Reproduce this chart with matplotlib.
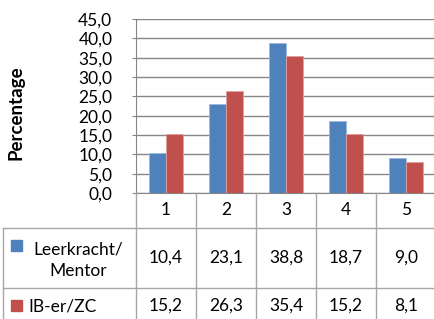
import matplotlib.pyplot as plt
import numpy as np
from matplotlib.patches import Rectangle
from matplotlib.lines import Line2D

# Data
categories = ['1', '2', '3', '4', '5']
series_names = ['Leerkracht/\nMentor', 'IB-er/ZC']
leerkracht = [10.4, 23.1, 38.8, 18.7, 9.0]
ib_er = [15.2, 26.3, 35.4, 15.2, 8.1]
colors = ['#4F81BD', '#C0504D']

plt.rcParams['font.family'] = ['Lato', 'DejaVu Sans']
FS = 12.5

W, H = 434, 319
fig = plt.figure(figsize=(W / 100, H / 100), dpi=100)


def fx(px):
    return px / W


def fy(py):
    return 1 - py / H


# Plot area (pixel layout of the reference)
left, top, bottom = 136, 19, 193
col_w = 60
ax_w = col_w * len(categories)
ax = fig.add_axes([fx(left), fy(bottom), fx(ax_w), (bottom - top) / H])

x = np.arange(len(categories))
bw = 0.29
ax.bar(x - bw / 2, leerkracht, width=bw, color=colors[0], edgecolor='#9DB9DD', linewidth=0.6, zorder=3)
ax.bar(x + bw / 2, ib_er, width=bw, color=colors[1], edgecolor='#E0A09E', linewidth=0.6, zorder=3)

ax.set_xlim(-0.5, len(categories) - 0.5)
ax.set_ylim(0, 45)
ax.set_yticks(np.arange(0, 46, 5))
ax.set_yticklabels([f'{v:.1f}'.replace('.', ',') for v in np.arange(0, 46, 5)], fontsize=FS)
ax.set_xticks([])
ax.grid(axis='y', color='#868686', linewidth=1.0, zorder=0)
for s in ['top', 'right']:
    ax.spines[s].set_visible(False)
for s in ['left', 'bottom']:
    ax.spines[s].set_color('#868686')
ax.tick_params(axis='y', length=3, color='#868686', pad=14)
ax.set_ylabel('Percentage', fontsize=13.5, fontweight='bold')
ax.yaxis.set_label_coords((24 - left) / ax_w, (bottom - 113) / (bottom - top))

# Data table
line_c = '#A6A6A6'
for i in range(len(categories) + 1):
    xx = left + i * col_w
    fig.add_artist(Line2D([fx(xx), fx(xx)], [fy(193), fy(H)], color=line_c, lw=1))
fig.add_artist(Line2D([fx(3), fx(3)], [fy(228), fy(H)], color=line_c, lw=1))
for yy in (228, 288):
    fig.add_artist(Line2D([fx(3), fx(W)], [fy(yy), fy(yy)], color=line_c, lw=1))

for i, c in enumerate(categories):
    fig.text(fx(left + (i + 0.5) * col_w), fy(210), c, ha='center', va='center', fontsize=FS)

row_y = [258, 306]
for r, (name, vals) in enumerate(zip(series_names, [leerkracht, ib_er])):
    for i, v in enumerate(vals):
        fig.text(fx(left + (i + 0.5) * col_w), fy(row_y[r]), f'{v:.1f}'.replace('.', ','),
                 ha='center', va='center', fontsize=FS)
    sq_y = 245 if r == 0 else 305
    fig.add_artist(Rectangle((fx(11), fy(sq_y + 5.5)), fx(11), 11 / H, color=colors[r]))
    if r == 0:
        fig.text(fx(78), fy(260), name, ha='center', va='center', fontsize=FS, linespacing=1.4)
    else:
        fig.text(fx(28), fy(row_y[r]), name, ha='left', va='center', fontsize=FS)

fig.savefig('out.png', dpi=100)
